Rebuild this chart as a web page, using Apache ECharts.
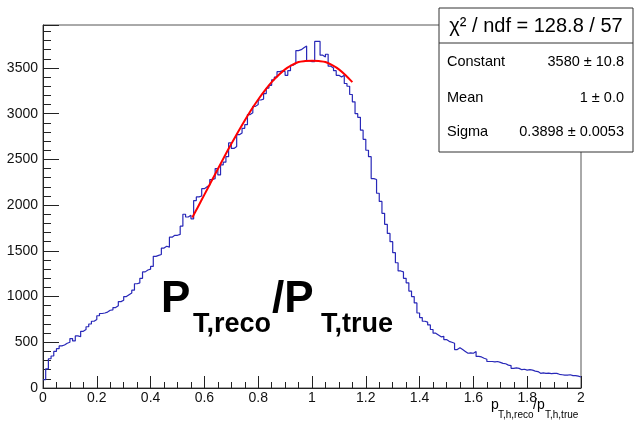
<!DOCTYPE html>
<html>
<head>
<meta charset="utf-8">
<script src="https://cdn.jsdelivr.net/npm/echarts@6/dist/echarts.min.js"></script>
<style>
  html, body { margin: 0; padding: 0; background: #fff; }
  #chart { width: 634px; height: 424px; }
</style>
</head>
<body>
<div id="chart"></div>
<script>
// histogram: 200 bins from 0 to 2
var xMin = 0
var xMax = 2
var binCounts = [
  90, 210, 320, 350, 400, 430, 460, 470, 490, 500,
  540, 515, 570, 560, 620, 640, 670, 700, 730, 750,
  790, 815, 820, 830, 850, 855, 880, 900, 945, 960,
  1000, 1020, 1040, 1070, 1140, 1150, 1200, 1270, 1290, 1300,
  1330, 1440, 1450, 1460, 1530, 1550, 1540, 1650, 1670, 1670,
  1680, 1770, 1900, 1870, 1890, 1850, 2050, 2090, 2100, 2180,
  2200, 2220, 2280, 2290, 2400, 2330, 2440, 2470, 2530, 2680,
  2620, 2640, 2770, 2790, 2840, 2880, 2990, 3010, 3080, 3100,
  3150, 3160, 3220, 3280, 3310, 3370, 3400, 3460, 3470, 3460,
  3420, 3470, 3530, 3550, 3690, 3700, 3720, 3740, 3580, 3570,
  3570, 3790, 3790, 3640, 3620, 3650, 3520, 3500, 3470, 3420,
  3400, 3420, 3330, 3300, 3210, 3130, 3000, 2960, 2820, 2720,
  2600, 2530, 2290, 2280, 2130, 2040, 1910, 1790, 1690, 1600,
  1480, 1370, 1280, 1270, 1200, 1150, 1060, 1000, 930, 820,
  770, 730, 720, 690, 640, 600, 580, 560, 565, 530,
  510, 500, 490, 420, 440, 420, 400, 380, 385, 380,
  400, 345, 340, 325, 315, 290, 290, 285, 290, 280,
  270, 265, 250, 245, 215, 220, 215, 200, 205, 195,
  200, 195, 185, 180, 160, 165, 160, 162, 158, 160,
  160, 150, 145, 140, 140, 145, 135, 135, 130, 120
]

// gaussian fit curve
var fitX = [0.555, 0.575, 0.6, 0.625, 0.65, 0.675, 0.7, 0.725, 0.75, 0.775, 0.8, 0.825, 0.85,
  0.875, 0.9, 0.925, 0.95, 0.975, 1.0, 1.025, 1.05, 1.075, 1.1, 1.125, 1.15]
var fitY = [1865, 1975, 2115, 2255, 2395, 2535, 2670, 2800, 2925, 3045, 3155, 3255, 3345,
  3420, 3485, 3530, 3565, 3575, 3580, 3575, 3565, 3530, 3485, 3420, 3345]

var yTicks = [0, 500, 1000, 1500, 2000, 2500, 3000, 3500]
var yMax = 3970

var statsHeader = 'χ² / ndf = 128.8 / 57'
var statsNames = ['Constant', 'Mean', 'Sigma']
var statsValues = ['3580 ± 10.8', '1 ± 0.0', '0.3898 ± 0.0053']

var FONT = '"Liberation Sans", Arial, sans-serif'

var chart = echarts.init(document.getElementById('chart'))

var binWidth = (xMax - xMin) / binCounts.length
var histData = binCounts.map(function (v, i) {
  return [xMin + i * binWidth, v]
})
// close the last bin
histData.push([xMax, binCounts[binCounts.length - 1]])

var fitData = fitX.map(function (x, i) {
  return [x, fitY[i]]
})

var statsRowY = [62, 98, 132]
var graphics = [
  // big label
  { type: 'text', left: 161, top: 278, style: { text: 'P', font: 'bold 44px ' + FONT, fill: '#000' } },
  { type: 'text', left: 193, top: 311, style: { text: 'T,reco', font: 'bold 27px ' + FONT, fill: '#000' } },
  { type: 'text', left: 272, top: 278, style: { text: '/P', font: 'bold 44px ' + FONT, fill: '#000' } },
  { type: 'text', left: 321, top: 311, style: { text: 'T,true', font: 'bold 27px ' + FONT, fill: '#000' } },
  // x axis title
  { type: 'text', left: 491, top: 398, style: { text: 'p', font: '14px ' + FONT, fill: '#000' } },
  { type: 'text', left: 498, top: 410, style: { text: 'T,h,reco', font: '10px ' + FONT, fill: '#000' } },
  { type: 'text', left: 533, top: 398, style: { text: '/p', font: '14px ' + FONT, fill: '#000' } },
  { type: 'text', left: 545, top: 410, style: { text: 'T,h,true', font: '10px ' + FONT, fill: '#000' } },
  // stats box
  {
    type: 'rect', z: 10,
    shape: { x: 439, y: 8, width: 194, height: 144 },
    style: { fill: '#fff', stroke: '#333', lineWidth: 1 }
  },
  {
    type: 'line', z: 11,
    shape: { x1: 439, y1: 43, x2: 633, y2: 43 },
    style: { stroke: '#333', lineWidth: 1 }
  },
  {
    type: 'text', z: 11, x: 536, y: 26,
    style: { text: statsHeader, font: '20px ' + FONT, fill: '#000', align: 'center', verticalAlign: 'middle' }
  }
]
statsNames.forEach(function (name, i) {
  graphics.push({
    type: 'text', z: 11, x: 447, y: statsRowY[i],
    style: { text: name, font: '14.5px ' + FONT, fill: '#000', align: 'left', verticalAlign: 'middle' }
  })
  graphics.push({
    type: 'text', z: 11, x: 624, y: statsRowY[i],
    style: { text: statsValues[i], font: '14.5px ' + FONT, fill: '#000', align: 'right', verticalAlign: 'middle' }
  })
})

chart.setOption({
  animation: false,
  backgroundColor: '#fff',
  grid: {
    left: 43,
    right: 53,
    top: 25,
    bottom: 36,
    show: true,
    borderColor: '#555',
    borderWidth: 1
  },
  xAxis: {
    type: 'value',
    min: xMin,
    max: xMax,
    interval: 0.2,
    axisLine: { show: true, lineStyle: { color: '#222', width: 1 } },
    axisTick: { inside: true, length: 12, lineStyle: { color: '#222' } },
    minorTick: { show: true, splitNumber: 4, length: 6, lineStyle: { color: '#222' } },
    splitLine: { show: false },
    axisLabel: { color: '#111', fontSize: 14, fontFamily: FONT, margin: 3 }
  },
  yAxis: {
    type: 'value',
    min: 0,
    max: yMax,
    interval: 500,
    axisLine: { show: true, lineStyle: { color: '#222', width: 1 } },
    axisTick: { inside: true, length: 16, lineStyle: { color: '#222' } },
    minorTick: { show: true, splitNumber: 5, length: 8, lineStyle: { color: '#222' } },
    splitLine: { show: false },
    axisLabel: {
      color: '#111', fontSize: 14, fontFamily: FONT, margin: 5,
      showMaxLabel: false,
      formatter: function (v) {
        return yTicks.indexOf(v) >= 0 ? String(v) : ''
      }
    }
  },
  series: [
    {
      type: 'line',
      data: histData,
      step: 'end',
      showSymbol: false,
      lineStyle: { color: '#2828b8', width: 1.2 },
      z: 2
    },
    {
      type: 'line',
      data: fitData,
      smooth: 0.3,
      showSymbol: false,
      lineStyle: { color: '#ff0000', width: 2 },
      z: 3
    }
  ],
  graphic: graphics
})
</script>
</body>
</html>
